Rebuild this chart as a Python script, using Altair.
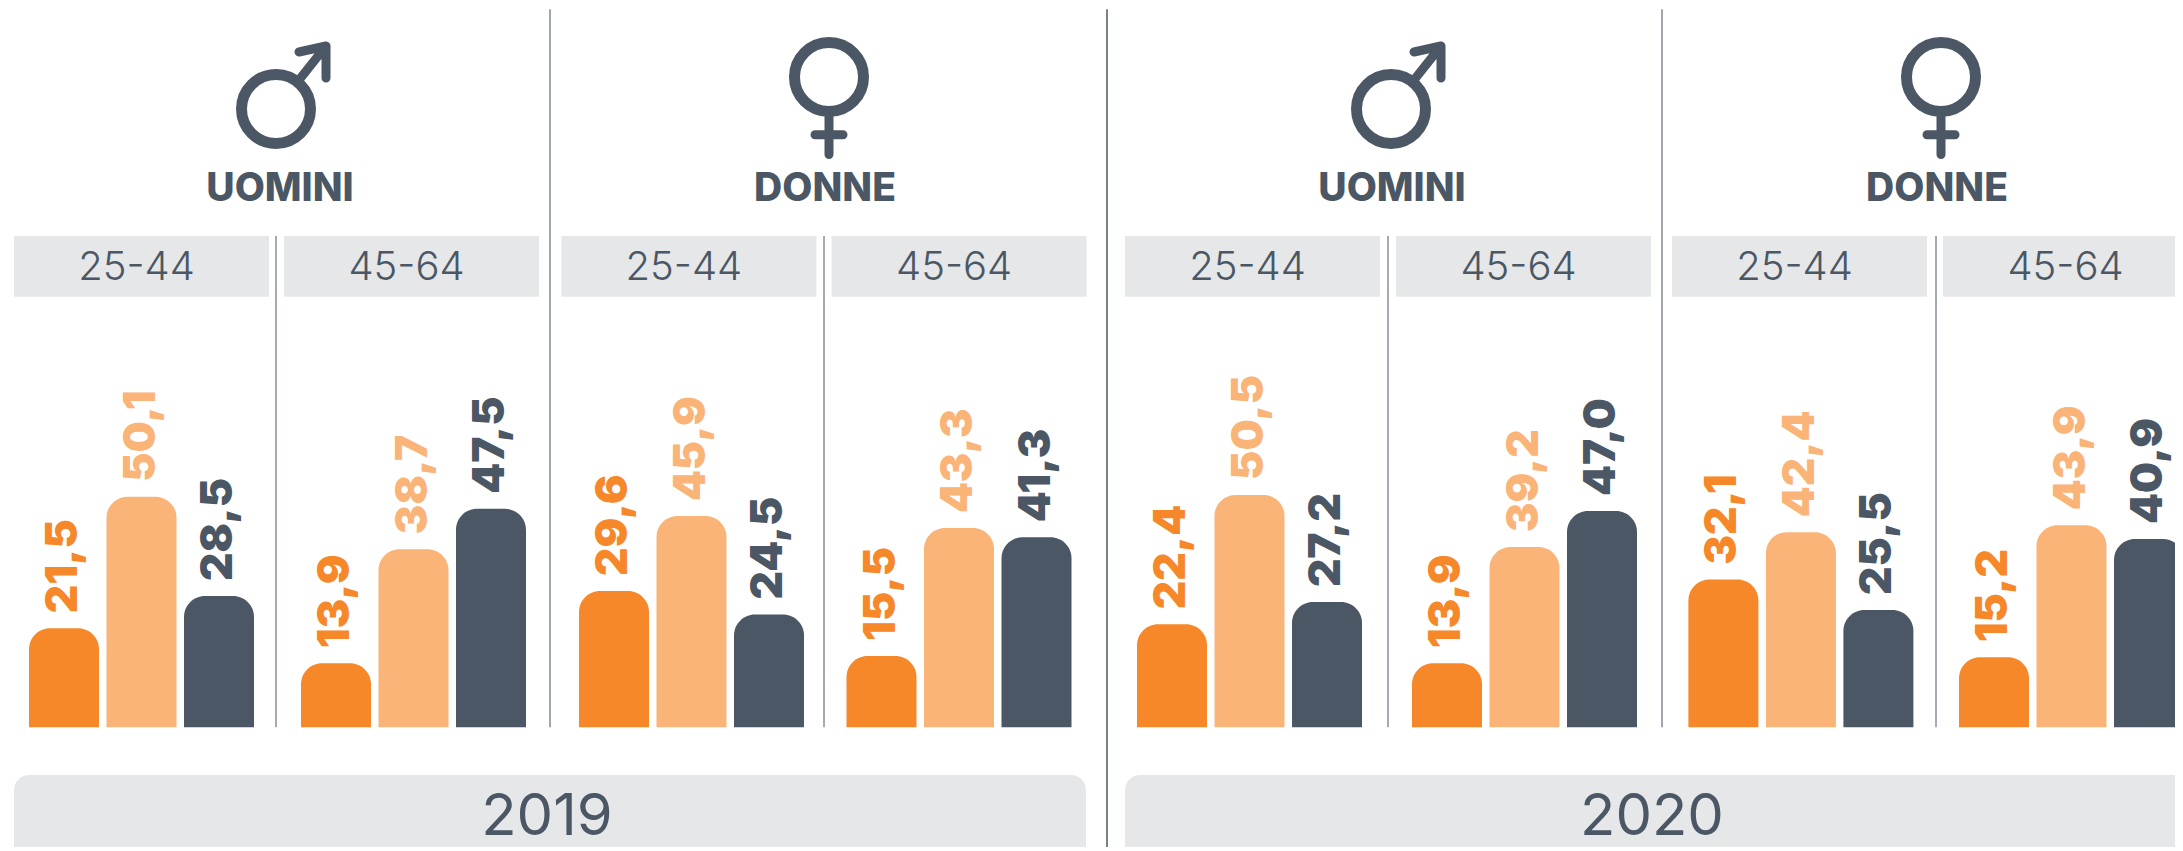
import altair as alt
import pandas as pd

# ---- data ----
years = ["2019", "2020"]
genders = ["UOMINI", "DONNE"]
ages = ["25-44", "45-64"]
series = ["A", "B", "C"]
values_2019_uomini_2544 = [21.5, 50.1, 28.5]
values_2019_uomini_4564 = [13.9, 38.7, 47.5]
values_2019_donne_2544 = [29.6, 45.9, 24.5]
values_2019_donne_4564 = [15.5, 43.3, 41.3]
values_2020_uomini_2544 = [22.4, 50.5, 27.2]
values_2020_uomini_4564 = [13.9, 39.2, 47.0]
values_2020_donne_2544 = [32.1, 42.4, 25.5]
values_2020_donne_4564 = [15.2, 43.9, 40.9]

panel_values = [
    values_2019_uomini_2544, values_2019_uomini_4564,
    values_2019_donne_2544, values_2019_donne_4564,
    values_2020_uomini_2544, values_2020_uomini_4564,
    values_2020_donne_2544, values_2020_donne_4564,
]

# ---- layout and style (page pixels, chart origin is at 8,8) ----
ORANGE, LIGHT, DARK, GREY = "#F6882A", "#FAB477", "#4B5764", "#E6E7E9"
LINE_GREY = "#A0A8AF"
FONT = "Inter"
H = 839
ORIGIN = 8
PX_PER_UNIT = 4.6
BASE = 727.2 - ORIGIN
Y_DOMAIN = [-(H - BASE) / PX_PER_UNIT, BASE / PX_PER_UNIT]
RIGHT = 2175
lefts = [8, 276, 550, 824, 1107, 1388, 1662, 1936, RIGHT]
bar_starts = [29, 301, 579, 846.5, 1137, 1412, 1688.4, 1959]
box_starts = [14, 284, 561.4, 831.6, 1125, 1396, 1672, 1943]
BAR_SPAN = 225
BOX_W = 255
divider_kind = [None, "inner", "gender", "inner", "year", "inner", "gender", "inner"]
divider_width = {"inner": 1, "gender": 2, "year": 1.5}
gender_text_x = {0: 280, 2: 825, 4: 1392, 6: 1937}
gender_sym_x = {0: 276, 2: 829, 4: 1391, 6: 1941}
year_bars = {0: (14, 1086, 547), 4: (1125, RIGHT, 1652)}

MALE_RING = "M -0.69 0 A 0.69 0.69 0 1 1 0.69 0 A 0.69 0.69 0 1 1 -0.69 0 Z"
MALE_ARROW = "M 0.46 -0.58 L 1.0 -1.26 M 0.46 -1.14 L 1.0 -1.26 L 1.0 -0.62"
FEMALE_STEM = "M 0 0.8 L 0 1.55 M -0.28 1.154 L 0.28 1.154"


def panel(i):
    L = lefts[i]
    w = lefts[i + 1] - L
    gender = genders[(i // 2) % 2]
    age = ages[i % 2]
    year = years[i // 4]
    bars = pd.DataFrame({
        "serie": series,
        "value": panel_values[i],
        "label": [f"{v:.1f}".replace(".", ",") for v in panel_values[i]],
    })
    head = pd.DataFrame({"gender": [gender], "age": [age], "year": [year]})
    start = bar_starts[i] - L
    xscale = alt.Scale(domain=series, range=[start, start + BAR_SPAN],
                       paddingInner=7.5 / 77.5, paddingOuter=0)
    x = alt.X("serie:N", scale=xscale, axis=None)
    y = alt.Y("value:Q", scale=alt.Scale(domain=Y_DOMAIN, nice=False, zero=False), axis=None)
    color = alt.Color("serie:N", scale=alt.Scale(domain=series, range=[ORANGE, LIGHT, DARK]), legend=None)
    layers = []

    kind = divider_kind[i]
    if kind:
        top, bottom = {"inner": (236, 727.2), "gender": (9.3, 727.2), "year": (9.3, ORIGIN + H)}[kind]
        layers.append(alt.Chart(head).mark_rule(
            color=LINE_GREY if kind == "gender" else DARK, strokeWidth=divider_width[kind]).encode(
            x=alt.value(0), y=alt.value(top - ORIGIN), y2=alt.value(bottom - ORIGIN)))

    bx = box_starts[i] - L
    layers.append(alt.Chart(head).mark_rect(color=GREY).encode(
        x=alt.value(bx), x2=alt.value(min(bx + BOX_W, w)),
        y=alt.value(236 - ORIGIN), y2=alt.value(296.7 - ORIGIN)))
    layers.append(alt.Chart(head).mark_text(
        font=FONT, fontSize=40, fontWeight=300, color=DARK, baseline="middle", align="center").encode(
        x=alt.value(bx + BOX_W / 2 - 5), y=alt.value(267.5 - ORIGIN), text="age:N"))

    layers.append(alt.Chart(bars).mark_bar(
        cornerRadiusTopLeft=21, cornerRadiusTopRight=21, clip=True).encode(
        x=x, y=y, y2=alt.Y2(datum=0), color=color))
    layers.append(alt.Chart(bars).mark_text(
        font=FONT, fontSize=44, fontWeight=900, angle=270, align="left", baseline="middle", dx=15, clip=True).encode(
        x=x, y=y, text="label:N", color=color))

    if i in gender_text_x:
        layers.append(alt.Chart(head).mark_text(
            font=FONT, fontSize=39, fontWeight=800, color=DARK, baseline="middle", align="center").encode(
            x=alt.value(gender_text_x[i] - L), y=alt.value(189 - ORIGIN), text="gender:N"))
        sx = gender_sym_x[i] - L
        sy = (109 if gender == "UOMINI" else 77) - ORIGIN
        layers.append(alt.Chart(head).mark_point(
            shape=MALE_RING, size=10000, filled=False, stroke=DARK, strokeWidth=11, opacity=1).encode(
            x=alt.value(sx), y=alt.value(sy)))
        layers.append(alt.Chart(head).mark_point(
            shape=MALE_ARROW if gender == "UOMINI" else FEMALE_STEM, size=10000, filled=False,
            stroke=DARK, strokeWidth=9, strokeCap="round", strokeJoin="round", opacity=1).encode(
            x=alt.value(sx), y=alt.value(sy)))

    if i in year_bars:
        a, b, c = year_bars[i]
        layers.append(alt.Chart(head).mark_rect(
            color=GREY, cornerRadiusTopLeft=15, cornerRadiusTopRight=15 if i == 0 else 0).encode(
            x=alt.value(a - L), x2=alt.value(b - L),
            y=alt.value(775 - ORIGIN), y2=alt.value(H)))
        layers.append(alt.Chart(head).mark_text(
            font=FONT, fontSize=58, fontWeight=400, color=DARK, baseline="middle", align="center").encode(
            x=alt.value(c - L), y=alt.value(818 - ORIGIN), text="year:N"))

    return alt.layer(*layers).resolve_scale(color="shared").properties(width=w, height=H)


chart = alt.hconcat(*[panel(i) for i in range(8)], spacing=0, bounds="flush").properties(
    padding=0, background="white"
).configure_view(stroke=None)

chart.save("out.html", embed_options={"renderer": "svg", "actions": False})
